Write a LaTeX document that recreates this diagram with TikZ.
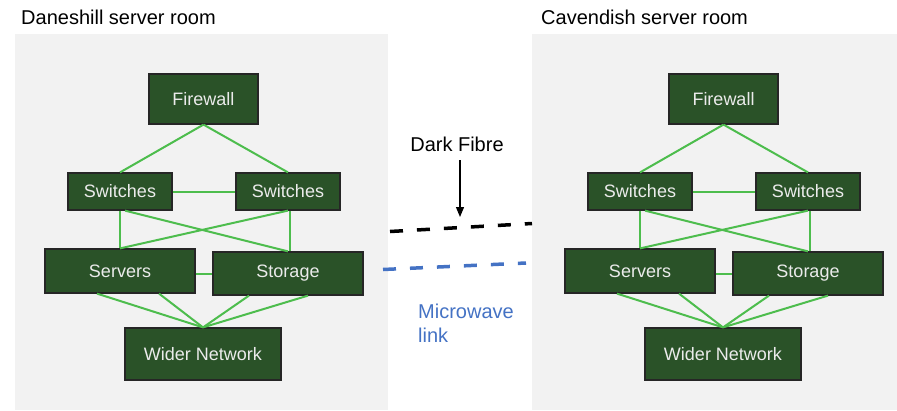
\documentclass[tikz,border=0pt]{standalone}
\usepackage{fontspec}
\setmainfont{Liberation Sans}
\usetikzlibrary{calc,arrows.meta}
\definecolor{boxgreen}{HTML}{2A5228}
\definecolor{linkgreen}{HTML}{4DBD4D}
\definecolor{roomgray}{HTML}{F2F2F2}
\definecolor{mwblue}{HTML}{4472C4}
\begin{document}
\begin{tikzpicture}[x=1pt,y=-1pt,
  box/.style={draw=black!85,line width=1.2pt,fill=boxgreen,text=white!92!black,
    inner sep=0pt,font=\fontsize{18}{20}\selectfont},
  wire/.style={draw=linkgreen,line width=2pt},
  room/.style={fill=roomgray,draw=none},
  title/.style={anchor=base west,inner sep=0pt,font=\fontsize{20}{24}\selectfont},
  fibreline/.style={line width=3.5pt,dash pattern=on 13pt off 14pt}]
\useasboundingbox (0,0) rectangle (897,410);
% Daneshill server room
\fill[room] (15,34) rectangle (388,410);
\node[title] (dtitle) at (21,24) {Daneshill server room};
\node[box,minimum width=109pt,minimum height=50pt] (dfw) at (203.5,99) {Firewall};
\node[box,minimum width=104pt,minimum height=37pt] (dswl) at (120,191.5) {Switches};
\node[box,minimum width=104pt,minimum height=37pt] (dswr) at (288,191.5) {Switches};
\node[box,minimum width=150pt,minimum height=44pt] (dsrv) at (120,271) {Servers};
\node[box,minimum width=150pt,minimum height=43pt] (dsto) at (288,273.5) {Storage};
\node[box,minimum width=156pt,minimum height=52pt] (dwn) at (203,354) {Wider Network};
\draw[wire] (dfw.south) -- (dswl.north);
\draw[wire] (dfw.south) -- (dswr.north);
\draw[wire] (dswl.east) -- (dswr.west);
\draw[wire] (dswl.south) -- (dsrv.north);
\draw[wire] ($(dswl.south)+(5,0)$) -- (dsto.north);
\draw[wire] (dswr.south) -- (dsrv.north);
\draw[wire] ($(dswr.south)+(2,0)$) -- ($(dsto.north)+(2,0)$);
\draw[wire] (dsrv.east |- dsto.west) -- (dsto.west);
\draw[wire] ($(dsrv.south)+(-23,0)$) -- (dwn.north);
\draw[wire] ($(dsrv.south)+(39,0)$) -- (dwn.north);
\draw[wire] ($(dsto.south)+(-39,0)$) -- (dwn.north);
\draw[wire] ($(dsto.south)+(20,0)$) -- (dwn.north);
% Cavendish server room
\fill[room] (532,34) rectangle (897,410);
\node[title] (ctitle) at (541,24) {Cavendish server room};
\node[box,minimum width=109pt,minimum height=50pt] (cfw) at (723.5,99) {Firewall};
\node[box,minimum width=104pt,minimum height=37pt] (cswl) at (640,191.5) {Switches};
\node[box,minimum width=104pt,minimum height=37pt] (cswr) at (808,191.5) {Switches};
\node[box,minimum width=150pt,minimum height=44pt] (csrv) at (640,271) {Servers};
\node[box,minimum width=150pt,minimum height=43pt] (csto) at (808,273.5) {Storage};
\node[box,minimum width=156pt,minimum height=52pt] (cwn) at (723,354) {Wider Network};
\draw[wire] (cfw.south) -- (cswl.north);
\draw[wire] (cfw.south) -- (cswr.north);
\draw[wire] (cswl.east) -- (cswr.west);
\draw[wire] (cswl.south) -- (csrv.north);
\draw[wire] ($(cswl.south)+(5,0)$) -- (csto.north);
\draw[wire] (cswr.south) -- (csrv.north);
\draw[wire] ($(cswr.south)+(2,0)$) -- ($(csto.north)+(2,0)$);
\draw[wire] (csrv.east |- csto.west) -- (csto.west);
\draw[wire] ($(csrv.south)+(-23,0)$) -- (cwn.north);
\draw[wire] ($(csrv.south)+(39,0)$) -- (cwn.north);
\draw[wire] ($(csto.south)+(-39,0)$) -- (cwn.north);
\draw[wire] ($(csto.south)+(20,0)$) -- (cwn.north);
% links between the rooms
\coordinate (dfibre) at (390,231.5);
\coordinate (cfibre) at (532,223.5);
\coordinate (dmicro) at (383,269.5);
\coordinate (cmicro) at (526,263);
\coordinate (fibretip) at (460,217);
\draw[fibreline,black] (dfibre) -- (cfibre);
\draw[fibreline,mwblue] (dmicro) -- (cmicro);
\node[title,anchor=base] (fibre) at (457,151) {Dark Fibre};
\draw[line width=1.2pt,-{Triangle[length=10pt,width=8pt]}] (fibre.south -| fibretip) ++(0,9) -- (fibretip);
\node[title,anchor=north west,align=left,text=mwblue] (micro) at (418,304) {Microwave\\link};
\end{tikzpicture}
\end{document}
